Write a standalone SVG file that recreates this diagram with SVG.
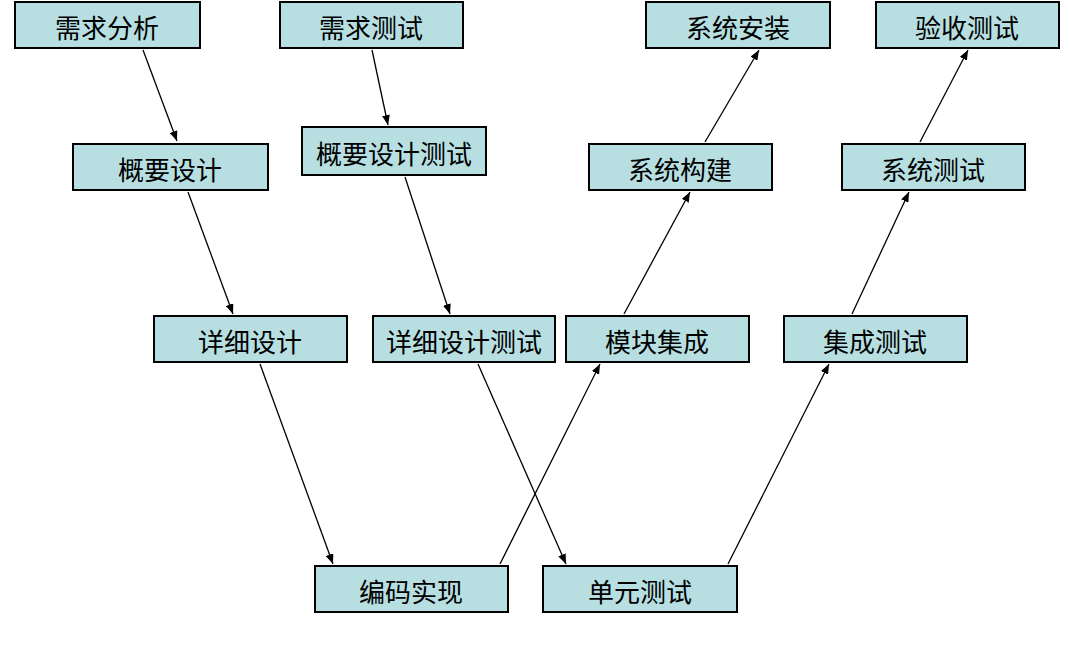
<svg xmlns="http://www.w3.org/2000/svg" width="1069" height="661" viewBox="0 0 1069 661">
<style>
.n rect{fill:#b7dfe2;stroke:#000;stroke-width:2}
.n text{font-family:"Noto Sans CJK SC",sans-serif;font-size:26px;text-anchor:middle;dominant-baseline:central;fill:#000}
.c line{stroke:#000;stroke-width:1.3;marker-end:url(#a)}
</style>
<defs><marker id="a" markerWidth="10" markerHeight="8" refX="10" refY="4" orient="auto" markerUnits="userSpaceOnUse"><path d="M0,0L10,4L0,8z" fill="#000"/></marker></defs>
<rect width="1069" height="661" fill="#fff"/>
<g class="c">
<line x1="143" y1="50" x2="177" y2="141"/>
<line x1="372" y1="50" x2="388" y2="125"/>
<line x1="405" y1="177" x2="450" y2="314"/>
<line x1="188" y1="192" x2="233" y2="314"/>
<line x1="260" y1="364" x2="333" y2="564"/>
<line x1="478" y1="364" x2="566" y2="564"/>
<line x1="500" y1="564" x2="600" y2="364"/>
<line x1="728" y1="564" x2="829" y2="364"/>
<line x1="624" y1="314" x2="690" y2="192"/>
<line x1="852" y1="314" x2="909" y2="192"/>
<line x1="705" y1="142" x2="759" y2="50"/>
<line x1="920" y1="142" x2="968" y2="50"/>
</g>
<g id="n1" class="n"><rect x="15" y="2" width="185" height="46"/><text x="107" y="26">需求分析</text></g>
<g id="n2" class="n"><rect x="280" y="2" width="183" height="46"/><text x="371" y="26">需求测试</text></g>
<g id="n3" class="n"><rect x="646" y="2" width="184" height="46"/><text x="738" y="26">系统安装</text></g>
<g id="n4" class="n"><rect x="876" y="2" width="183" height="46"/><text x="967" y="26">验收测试</text></g>
<g id="n5" class="n"><rect x="73" y="144" width="195" height="46"/><text x="170" y="168">概要设计</text></g>
<g id="n6" class="n"><rect x="302" y="127" width="184" height="48"/><text x="394" y="152">概要设计测试</text></g>
<g id="n7" class="n"><rect x="589" y="144" width="183" height="46"/><text x="680" y="168">系统构建</text></g>
<g id="n8" class="n"><rect x="842" y="144" width="183" height="46"/><text x="933" y="168">系统测试</text></g>
<g id="n9" class="n"><rect x="154" y="316" width="193" height="46"/><text x="250" y="340">详细设计</text></g>
<g id="n10" class="n"><rect x="373" y="316" width="182" height="46"/><text x="464" y="340">详细设计测试</text></g>
<g id="n11" class="n"><rect x="566" y="316" width="183" height="46"/><text x="657" y="340">模块集成</text></g>
<g id="n12" class="n"><rect x="784" y="316" width="183" height="46"/><text x="875" y="340">集成测试</text></g>
<g id="n13" class="n"><rect x="315" y="566" width="193" height="46"/><text x="411" y="590">编码实现</text></g>
<g id="n14" class="n"><rect x="543" y="566" width="194" height="46"/><text x="640" y="590">单元测试</text></g>
</svg>
